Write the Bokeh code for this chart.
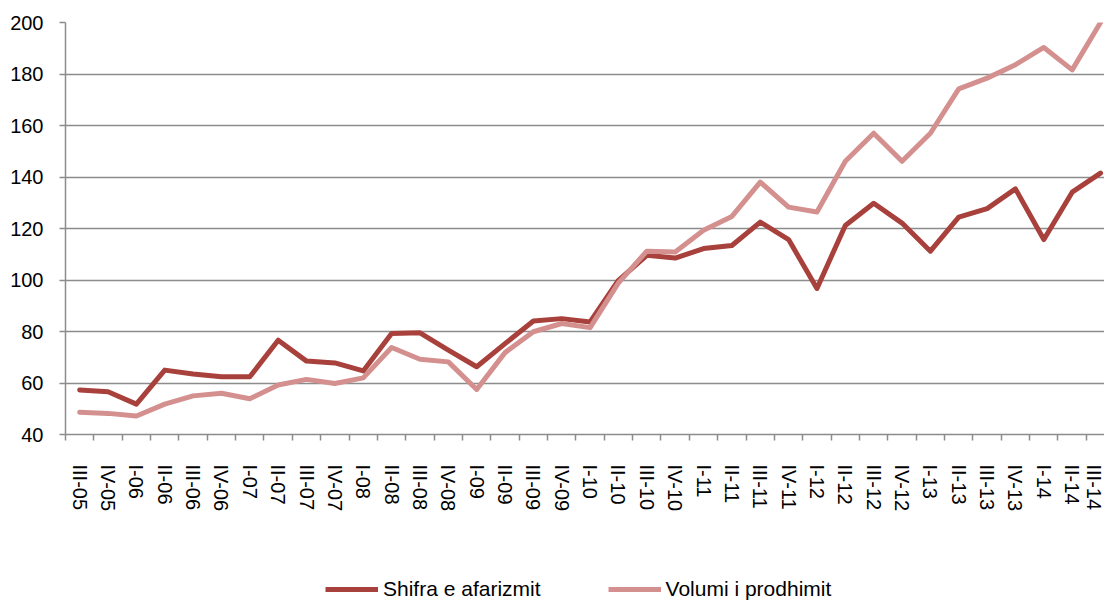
from bokeh.plotting import figure
from bokeh.layouts import column
from bokeh.models import FixedTicker, Range1d, Legend, LegendItem
from bokeh.embed import file_html
from bokeh.resources import INLINE

categories = ["III-05", "IV-05", "I-06", "II-06", "III-06", "IV-06", "I-07", "II-07",
              "III-07", "IV-07", "I-08", "II-08", "III-08", "IV-08", "I-09", "II-09",
              "III-09", "IV-09", "I-10", "II-10", "III-10", "IV-10", "I-11", "II-11",
              "III-11", "IV-11", "I-12", "II-12", "III-12", "IV-12", "I-13", "II-13",
              "III-13", "IV-13", "I-14", "II-14", "III-14"]

shifra = [57.3, 56.6, 51.8, 65.0, 63.5, 62.4, 62.4, 76.6, 68.5, 67.8, 64.7, 79.2,
          79.5, 72.8, 66.3, 75.3, 84.1, 85.0, 83.7, 99.9, 109.6, 108.5, 112.2, 113.4,
          122.5, 115.7, 96.7, 121.2, 129.8, 122.1, 111.2, 124.4, 127.7, 135.4, 115.7,
          134.1, 141.5]

volumi = [48.6, 48.2, 47.2, 51.8, 55.0, 56.0, 53.9, 59.2, 61.4, 59.8, 62.0, 73.8,
          69.2, 68.2, 57.5, 71.8, 79.9, 83.1, 81.5, 98.9, 111.2, 110.9, 119.3, 124.7,
          138.0, 128.3, 126.4, 146.1, 157.0, 146.1, 157.0, 174.2, 178.4, 183.6, 190.3,
          181.6, 200.0]

series_names = ["Shifra e afarizmit", "Volumi i prodhimit"]
y_ticks = [40, 60, 80, 100, 120, 140, 160, 180, 200]

DARK = "#A8403C"
LIGHT = "#D4908E"
GRID = "#8C8C8C"
FONT = "Liberation Sans"

idx = list(range(len(categories)))

p = figure(width=1104, height=568, output_backend="svg", toolbar_location=None,
           x_range=Range1d(-0.5, 36.14), y_range=Range1d(40, 200),
           min_border_left=65, min_border_right=0, min_border_top=22,
           min_border_bottom=134)
p.outline_line_color = None
p.background_fill_color = "white"
p.border_fill_color = "white"

p.line(idx, shifra, line_color=DARK, line_width=5, line_join="round", line_cap="round")
p.line(idx, volumi, line_color=LIGHT, line_width=5, line_join="round", line_cap="round")

# x axis
p.xaxis.ticker = FixedTicker(ticks=idx, minor_ticks=[i - 0.5 for i in range(len(categories) + 1)])
p.xaxis.major_label_overrides = {i: c for i, c in enumerate(categories)}
p.xaxis.major_label_orientation = "vertical"
p.xaxis.major_tick_out = 0
p.xaxis.major_tick_in = 0
p.xaxis.minor_tick_out = 6
p.xaxis.minor_tick_in = 0
p.xaxis.minor_tick_line_color = GRID
p.xaxis.minor_tick_line_width = 1.5
p.xaxis.axis_line_color = GRID
p.xaxis.axis_line_width = 1.5
p.xaxis.major_label_standoff = 24
p.xaxis.major_label_text_font = FONT
p.xaxis.major_label_text_font_size = "20px"
p.xaxis.major_label_text_color = "black"

# y axis
p.yaxis.ticker = FixedTicker(ticks=y_ticks, minor_ticks=[])
p.yaxis.major_tick_out = 6
p.yaxis.major_tick_in = 0
p.yaxis.major_tick_line_color = GRID
p.yaxis.major_tick_line_width = 1.5
p.yaxis.axis_line_color = GRID
p.yaxis.axis_line_width = 1.5
p.yaxis.major_label_standoff = 16
p.yaxis.major_label_text_font = FONT
p.yaxis.major_label_text_font_size = "20px"
p.yaxis.major_label_text_color = "black"

p.xgrid.grid_line_color = None
p.ygrid.ticker = FixedTicker(ticks=y_ticks)
p.ygrid.grid_line_color = GRID
p.ygrid.grid_line_width = 1.5

# legend strip (keys only; their renderers lie outside the visible range)
lg = figure(width=1104, height=34, output_backend="svg", toolbar_location=None,
            x_range=Range1d(0, 1), y_range=Range1d(0, 1),
            min_border_left=0, min_border_right=0, min_border_top=0, min_border_bottom=0)
lg.axis.visible = False
lg.grid.visible = False
lg.outline_line_color = None
lg.border_fill_color = "white"
a = lg.line([-10, -9], [-10, -10], line_color=DARK, line_width=5)
b = lg.line([-10, -9], [-10, -10], line_color=LIGHT, line_width=5)
legend = Legend(items=[LegendItem(label=series_names[0], renderers=[a]),
                       LegendItem(label=series_names[1], renderers=[b])],
                orientation="horizontal", location=(260, 1),
                glyph_width=53, glyph_height=22, label_standoff=5, spacing=67,
                padding=0, margin=0, border_line_color=None,
                background_fill_alpha=0, label_text_font=FONT,
                label_text_color="black",
                label_text_font_size="21px", label_height=22)
lg.add_layout(legend, "center")

layout = column(p, lg, spacing=0)
open("out.html", "w").write(file_html(layout, INLINE))
